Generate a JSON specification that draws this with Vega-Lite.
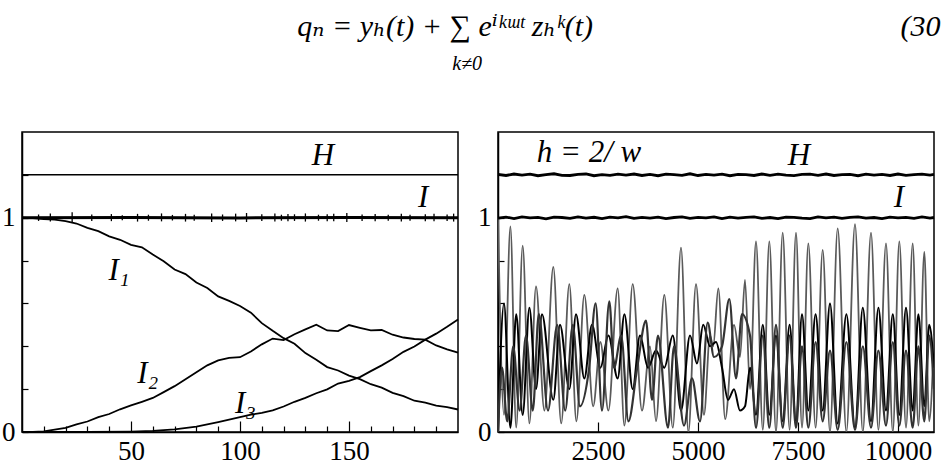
{
  "$schema": "https://vega.github.io/schema/vega-lite/v6.json",
  "background": "white",
  "padding": {"left": 0, "top": 12, "right": 0, "bottom": 0},
  "title": {
    "text": "q\u2099 = y\u2095(t) + \u2211 e\u2071\u1d4f\u1d5a\u1d57 z\u2095\u1d4f(t)\u00a0\u00a0\u00a0\u00a0\u00a0\u00a0\u00a0\u00a0\u00a0\u00a0\u00a0\u00a0\u00a0\u00a0\u00a0\u00a0\u00a0\u00a0\u00a0\u00a0\u00a0\u00a0\u00a0\u00a0\u00a0\u00a0\u00a0\u00a0\u00a0\u00a0\u00a0\u00a0\u00a0\u00a0\u00a0\u00a0\u00a0\u00a0\u00a0\u00a0\u00a0(30",
    "subtitle": "\u200b\u00a0\u00a0\u00a0\u00a0\u00a0\u00a0\u00a0\u00a0\u00a0\u00a0\u00a0\u00a0\u00a0\u00a0\u00a0\u00a0\u00a0\u00a0\u00a0\u00a0\u00a0\u00a0\u00a0\u00a0\u00a0\u00a0\u00a0\u00a0\u00a0\u00a0\u00a0k\u22600",
    "anchor": "start",
    "frame": "bounds",
    "dx": 297,
    "font": "Liberation Serif, Times New Roman, DejaVu Serif, serif",
    "fontSize": 30,
    "fontStyle": "italic",
    "fontWeight": "normal",
    "color": "black",
    "subtitleFont": "Liberation Serif, Times New Roman, DejaVu Serif, serif",
    "subtitleFontSize": 20,
    "subtitleFontStyle": "italic",
    "subtitleColor": "black",
    "subtitlePadding": 12,
    "offset": 57
  },
  "config": {
    "view": {"stroke": "black", "strokeWidth": 1.5},
    "axis": {
      "grid": false,
      "domainColor": "black",
      "domainWidth": 1.5,
      "tickColor": "black",
      "tickWidth": 1.2,
      "labelFont": "Liberation Serif, Times New Roman, DejaVu Serif, serif",
      "labelFontSize": 27,
      "labelColor": "black",
      "labelOverlap": false,
      "labelFlush": false
    },
    "text": {"font": "Liberation Serif, Times New Roman, DejaVu Serif, serif", "fontStyle": "italic", "fontSize": 31, "color": "black"}
  },
  "datasets": {
    "leftH": [{"t": 0, "v": 1.2}, {"t": 200, "v": 1.2}],
    "leftI": [{"t": 0, "v": 1.0}, {"t": 50, "v": 1.001}, {"t": 100, "v": 0.999}, {"t": 150, "v": 1.001}, {"t": 200, "v": 1.0}],
    "leftSpikes": [
      {"t": 7.6, "lo": 0.985, "hi": 1.015}, {"t": 13, "lo": 0.982, "hi": 1.02}, {"t": 23, "lo": 0.975, "hi": 1.025},
      {"t": 32, "lo": 0.985, "hi": 1.015}, {"t": 41, "lo": 0.984, "hi": 1.017}, {"t": 46, "lo": 0.988, "hi": 1.012},
      {"t": 53, "lo": 0.982, "hi": 1.018}, {"t": 58, "lo": 0.986, "hi": 1.014}, {"t": 64, "lo": 0.983, "hi": 1.02},
      {"t": 69, "lo": 0.987, "hi": 1.013}, {"t": 75, "lo": 0.982, "hi": 1.018}, {"t": 79, "lo": 0.986, "hi": 1.014},
      {"t": 87, "lo": 0.98, "hi": 1.02}, {"t": 92, "lo": 0.985, "hi": 1.015}, {"t": 98, "lo": 0.983, "hi": 1.019},
      {"t": 103, "lo": 0.98, "hi": 1.022}, {"t": 110, "lo": 0.985, "hi": 1.016}, {"t": 116, "lo": 0.982, "hi": 1.02},
      {"t": 119, "lo": 0.986, "hi": 1.014}, {"t": 122, "lo": 0.983, "hi": 1.017}, {"t": 125, "lo": 0.985, "hi": 1.016},
      {"t": 130, "lo": 0.982, "hi": 1.02}, {"t": 136, "lo": 0.986, "hi": 1.014}, {"t": 140, "lo": 0.984, "hi": 1.016},
      {"t": 143, "lo": 0.983, "hi": 1.018}, {"t": 149, "lo": 0.98, "hi": 1.022}, {"t": 156, "lo": 0.985, "hi": 1.015},
      {"t": 162, "lo": 0.983, "hi": 1.017}, {"t": 168, "lo": 0.986, "hi": 1.014}, {"t": 174, "lo": 0.982, "hi": 1.018},
      {"t": 178, "lo": 0.986, "hi": 1.014}, {"t": 185, "lo": 0.984, "hi": 1.016}, {"t": 189, "lo": 0.983, "hi": 1.018},
      {"t": 195, "lo": 0.985, "hi": 1.015}, {"t": 198, "lo": 0.982, "hi": 1.019}
    ],
    "leftCurves": [
      {"s": "I1", "t": 0, "v": 1.0}, {"s": "I1", "t": 5, "v": 0.998}, {"s": "I1", "t": 10, "v": 0.994}, {"s": "I1", "t": 15, "v": 0.991},
      {"s": "I1", "t": 20, "v": 0.984}, {"s": "I1", "t": 25, "v": 0.973}, {"s": "I1", "t": 30, "v": 0.953}, {"s": "I1", "t": 35, "v": 0.937},
      {"s": "I1", "t": 40, "v": 0.913}, {"s": "I1", "t": 45, "v": 0.897}, {"s": "I1", "t": 50, "v": 0.873}, {"s": "I1", "t": 55, "v": 0.862},
      {"s": "I1", "t": 60, "v": 0.828}, {"s": "I1", "t": 65, "v": 0.797}, {"s": "I1", "t": 70, "v": 0.758}, {"s": "I1", "t": 75, "v": 0.737},
      {"s": "I1", "t": 80, "v": 0.698}, {"s": "I1", "t": 85, "v": 0.672}, {"s": "I1", "t": 90, "v": 0.633}, {"s": "I1", "t": 95, "v": 0.612},
      {"s": "I1", "t": 100, "v": 0.588}, {"s": "I1", "t": 105, "v": 0.557}, {"s": "I1", "t": 110, "v": 0.508}, {"s": "I1", "t": 115, "v": 0.472},
      {"s": "I1", "t": 120, "v": 0.438}, {"s": "I1", "t": 125, "v": 0.412}, {"s": "I1", "t": 130, "v": 0.368}, {"s": "I1", "t": 135, "v": 0.337},
      {"s": "I1", "t": 140, "v": 0.303}, {"s": "I1", "t": 145, "v": 0.287}, {"s": "I1", "t": 150, "v": 0.263}, {"s": "I1", "t": 155, "v": 0.247},
      {"s": "I1", "t": 160, "v": 0.223}, {"s": "I1", "t": 165, "v": 0.207}, {"s": "I1", "t": 170, "v": 0.183}, {"s": "I1", "t": 175, "v": 0.167},
      {"s": "I1", "t": 180, "v": 0.146}, {"s": "I1", "t": 185, "v": 0.137}, {"s": "I1", "t": 190, "v": 0.123}, {"s": "I1", "t": 195, "v": 0.116},
      {"s": "I1", "t": 200, "v": 0.105},
      {"s": "I2", "t": 0, "v": 0.0}, {"s": "I2", "t": 5, "v": 0.0}, {"s": "I2", "t": 10, "v": 0.003}, {"s": "I2", "t": 15, "v": 0.011},
      {"s": "I2", "t": 20, "v": 0.019}, {"s": "I2", "t": 25, "v": 0.036}, {"s": "I2", "t": 30, "v": 0.049}, {"s": "I2", "t": 35, "v": 0.069},
      {"s": "I2", "t": 40, "v": 0.084}, {"s": "I2", "t": 45, "v": 0.106}, {"s": "I2", "t": 50, "v": 0.124}, {"s": "I2", "t": 55, "v": 0.141},
      {"s": "I2", "t": 60, "v": 0.159}, {"s": "I2", "t": 65, "v": 0.186}, {"s": "I2", "t": 70, "v": 0.214}, {"s": "I2", "t": 75, "v": 0.246},
      {"s": "I2", "t": 80, "v": 0.279}, {"s": "I2", "t": 85, "v": 0.311}, {"s": "I2", "t": 90, "v": 0.334}, {"s": "I2", "t": 95, "v": 0.346},
      {"s": "I2", "t": 100, "v": 0.349}, {"s": "I2", "t": 105, "v": 0.376}, {"s": "I2", "t": 110, "v": 0.409}, {"s": "I2", "t": 115, "v": 0.436},
      {"s": "I2", "t": 120, "v": 0.429}, {"s": "I2", "t": 125, "v": 0.456}, {"s": "I2", "t": 130, "v": 0.479}, {"s": "I2", "t": 135, "v": 0.501},
      {"s": "I2", "t": 140, "v": 0.474}, {"s": "I2", "t": 145, "v": 0.471}, {"s": "I2", "t": 150, "v": 0.499}, {"s": "I2", "t": 155, "v": 0.486},
      {"s": "I2", "t": 160, "v": 0.474}, {"s": "I2", "t": 165, "v": 0.476}, {"s": "I2", "t": 170, "v": 0.454}, {"s": "I2", "t": 175, "v": 0.441},
      {"s": "I2", "t": 180, "v": 0.434}, {"s": "I2", "t": 185, "v": 0.431}, {"s": "I2", "t": 190, "v": 0.404}, {"s": "I2", "t": 195, "v": 0.386},
      {"s": "I2", "t": 200, "v": 0.37},
      {"s": "I3", "t": 0, "v": 0.0}, {"s": "I3", "t": 30, "v": 0.0}, {"s": "I3", "t": 50, "v": 0.002}, {"s": "I3", "t": 60, "v": 0.005},
      {"s": "I3", "t": 70, "v": 0.012}, {"s": "I3", "t": 80, "v": 0.025}, {"s": "I3", "t": 90, "v": 0.046}, {"s": "I3", "t": 100, "v": 0.069},
      {"s": "I3", "t": 105, "v": 0.081}, {"s": "I3", "t": 110, "v": 0.089}, {"s": "I3", "t": 115, "v": 0.101}, {"s": "I3", "t": 120, "v": 0.119},
      {"s": "I3", "t": 125, "v": 0.141}, {"s": "I3", "t": 130, "v": 0.159}, {"s": "I3", "t": 135, "v": 0.181}, {"s": "I3", "t": 140, "v": 0.199},
      {"s": "I3", "t": 145, "v": 0.226}, {"s": "I3", "t": 150, "v": 0.239}, {"s": "I3", "t": 155, "v": 0.256}, {"s": "I3", "t": 160, "v": 0.284},
      {"s": "I3", "t": 165, "v": 0.311}, {"s": "I3", "t": 170, "v": 0.341}, {"s": "I3", "t": 175, "v": 0.374}, {"s": "I3", "t": 180, "v": 0.399},
      {"s": "I3", "t": 185, "v": 0.431}, {"s": "I3", "t": 190, "v": 0.459}, {"s": "I3", "t": 195, "v": 0.491}, {"s": "I3", "t": 200, "v": 0.525}
    ],
    "rightHI": [
      {"s": "H", "t": 0, "v": 1.202}, {"s": "H", "t": 200, "v": 1.197}, {"s": "H", "t": 400, "v": 1.204}, {"s": "H", "t": 600, "v": 1.199},
      {"s": "H", "t": 800, "v": 1.203}, {"s": "H", "t": 1000, "v": 1.196}, {"s": "H", "t": 1200, "v": 1.201}, {"s": "H", "t": 1400, "v": 1.205},
      {"s": "H", "t": 1600, "v": 1.198}, {"s": "H", "t": 1800, "v": 1.197}, {"s": "H", "t": 2000, "v": 1.202}, {"s": "H", "t": 2200, "v": 1.204},
      {"s": "H", "t": 2400, "v": 1.196}, {"s": "H", "t": 2600, "v": 1.201}, {"s": "H", "t": 2800, "v": 1.198}, {"s": "H", "t": 3000, "v": 1.203},
      {"s": "H", "t": 3200, "v": 1.199}, {"s": "H", "t": 3400, "v": 1.204}, {"s": "H", "t": 3600, "v": 1.197}, {"s": "H", "t": 3800, "v": 1.202},
      {"s": "H", "t": 4000, "v": 1.196}, {"s": "H", "t": 4200, "v": 1.203}, {"s": "H", "t": 4400, "v": 1.201}, {"s": "H", "t": 4600, "v": 1.198},
      {"s": "H", "t": 4800, "v": 1.205}, {"s": "H", "t": 5000, "v": 1.197}, {"s": "H", "t": 5200, "v": 1.202}, {"s": "H", "t": 5400, "v": 1.199},
      {"s": "H", "t": 5600, "v": 1.203}, {"s": "H", "t": 5800, "v": 1.196}, {"s": "H", "t": 6000, "v": 1.202}, {"s": "H", "t": 6200, "v": 1.201},
      {"s": "H", "t": 6400, "v": 1.197}, {"s": "H", "t": 6600, "v": 1.204}, {"s": "H", "t": 6800, "v": 1.198}, {"s": "H", "t": 7000, "v": 1.203},
      {"s": "H", "t": 7200, "v": 1.199}, {"s": "H", "t": 7400, "v": 1.196}, {"s": "H", "t": 7600, "v": 1.202}, {"s": "H", "t": 7800, "v": 1.203},
      {"s": "H", "t": 8000, "v": 1.198}, {"s": "H", "t": 8200, "v": 1.204}, {"s": "H", "t": 8400, "v": 1.197}, {"s": "H", "t": 8600, "v": 1.201},
      {"s": "H", "t": 8800, "v": 1.202}, {"s": "H", "t": 9000, "v": 1.196}, {"s": "H", "t": 9200, "v": 1.203}, {"s": "H", "t": 9400, "v": 1.199},
      {"s": "H", "t": 9600, "v": 1.202}, {"s": "H", "t": 9800, "v": 1.197}, {"s": "H", "t": 10000, "v": 1.204}, {"s": "H", "t": 10200, "v": 1.198},
      {"s": "H", "t": 10400, "v": 1.201}, {"s": "H", "t": 10600, "v": 1.203}, {"s": "H", "t": 10800, "v": 1.199}, {"s": "H", "t": 10900, "v": 1.202},
      {"s": "I", "t": 0, "v": 0.998}, {"s": "I", "t": 200, "v": 1.003}, {"s": "I", "t": 400, "v": 0.996}, {"s": "I", "t": 600, "v": 1.004},
      {"s": "I", "t": 800, "v": 0.999}, {"s": "I", "t": 1000, "v": 1.002}, {"s": "I", "t": 1200, "v": 0.995}, {"s": "I", "t": 1400, "v": 1.003},
      {"s": "I", "t": 1600, "v": 1.001}, {"s": "I", "t": 1800, "v": 0.997}, {"s": "I", "t": 2000, "v": 1.004}, {"s": "I", "t": 2200, "v": 0.998},
      {"s": "I", "t": 2400, "v": 1.002}, {"s": "I", "t": 2600, "v": 0.996}, {"s": "I", "t": 2800, "v": 1.003}, {"s": "I", "t": 3000, "v": 0.999},
      {"s": "I", "t": 3200, "v": 1.005}, {"s": "I", "t": 3400, "v": 0.997}, {"s": "I", "t": 3600, "v": 1.002}, {"s": "I", "t": 3800, "v": 0.998},
      {"s": "I", "t": 4000, "v": 1.003}, {"s": "I", "t": 4200, "v": 0.996}, {"s": "I", "t": 4400, "v": 1.001}, {"s": "I", "t": 4600, "v": 1.004},
      {"s": "I", "t": 4800, "v": 0.997}, {"s": "I", "t": 5000, "v": 1.002}, {"s": "I", "t": 5200, "v": 0.999}, {"s": "I", "t": 5400, "v": 1.004},
      {"s": "I", "t": 5600, "v": 0.996}, {"s": "I", "t": 5800, "v": 1.003}, {"s": "I", "t": 6000, "v": 0.998}, {"s": "I", "t": 6200, "v": 1.002},
      {"s": "I", "t": 6400, "v": 1.004}, {"s": "I", "t": 6600, "v": 0.997}, {"s": "I", "t": 6800, "v": 1.001}, {"s": "I", "t": 7000, "v": 0.996},
      {"s": "I", "t": 7200, "v": 1.003}, {"s": "I", "t": 7400, "v": 1.002}, {"s": "I", "t": 7600, "v": 0.998}, {"s": "I", "t": 7800, "v": 0.996},
      {"s": "I", "t": 8000, "v": 1.004}, {"s": "I", "t": 8200, "v": 0.999}, {"s": "I", "t": 8400, "v": 1.003}, {"s": "I", "t": 8600, "v": 0.997},
      {"s": "I", "t": 8800, "v": 1.002}, {"s": "I", "t": 9000, "v": 1.004}, {"s": "I", "t": 9200, "v": 0.998}, {"s": "I", "t": 9400, "v": 1.001},
      {"s": "I", "t": 9600, "v": 0.996}, {"s": "I", "t": 9800, "v": 1.003}, {"s": "I", "t": 10000, "v": 0.999}, {"s": "I", "t": 10200, "v": 1.002},
      {"s": "I", "t": 10400, "v": 0.997}, {"s": "I", "t": 10600, "v": 1.004}, {"s": "I", "t": 10800, "v": 0.998}, {"s": "I", "t": 10900, "v": 1.001}
    ],
    "rightCurves": [
      {"s": "A", "t": 0, "v": 1.0}, {"s": "A", "t": 150, "v": 0.08}, {"s": "A", "t": 310, "v": 0.96}, {"s": "A", "t": 455, "v": 0.02},
      {"s": "A", "t": 617, "v": 0.87}, {"s": "A", "t": 785, "v": 0.04}, {"s": "A", "t": 950, "v": 0.68}, {"s": "A", "t": 1160, "v": 0.1},
      {"s": "A", "t": 1383, "v": 0.77}, {"s": "A", "t": 1580, "v": 0.04}, {"s": "A", "t": 1783, "v": 0.69}, {"s": "A", "t": 1960, "v": 0.05},
      {"s": "A", "t": 2158, "v": 0.64}, {"s": "A", "t": 2380, "v": 0.12}, {"s": "A", "t": 2560, "v": 0.42}, {"s": "A", "t": 2760, "v": 0.1},
      {"s": "A", "t": 2992, "v": 0.67}, {"s": "A", "t": 3160, "v": 0.03}, {"s": "A", "t": 3367, "v": 0.69}, {"s": "A", "t": 3600, "v": 0.1},
      {"s": "A", "t": 3800, "v": 0.4}, {"s": "A", "t": 3950, "v": 0.05}, {"s": "A", "t": 4158, "v": 0.64}, {"s": "A", "t": 4370, "v": 0.02},
      {"s": "A", "t": 4575, "v": 0.86}, {"s": "A", "t": 4760, "v": 0.0}, {"s": "A", "t": 4950, "v": 0.69}, {"s": "A", "t": 5150, "v": 0.08},
      {"s": "A", "t": 5300, "v": 0.45}, {"s": "A", "t": 5380, "v": 0.4}, {"s": "A", "t": 5508, "v": 0.67}, {"s": "A", "t": 5680, "v": 0.06},
      {"s": "A", "t": 5900, "v": 0.5}, {"s": "A", "t": 6050, "v": 0.35}, {"s": "A", "t": 6175, "v": 0.71}, {"s": "A", "t": 6300, "v": 0.2},
      {"s": "A", "t": 6450, "v": 0.89}, {"s": "A", "t": 6620, "v": 0.01}, {"s": "A", "t": 6783, "v": 0.89}, {"s": "A", "t": 6950, "v": 0.0},
      {"s": "A", "t": 7117, "v": 0.93}, {"s": "A", "t": 7290, "v": 0.01}, {"s": "A", "t": 7450, "v": 0.93}, {"s": "A", "t": 7600, "v": 0.02},
      {"s": "A", "t": 7758, "v": 0.88}, {"s": "A", "t": 7940, "v": 0.02}, {"s": "A", "t": 8117, "v": 0.85}, {"s": "A", "t": 8300, "v": 0.0},
      {"s": "A", "t": 8492, "v": 0.95}, {"s": "A", "t": 8710, "v": 0.0}, {"s": "A", "t": 8925, "v": 0.97}, {"s": "A", "t": 9120, "v": 0.0},
      {"s": "A", "t": 9325, "v": 0.93}, {"s": "A", "t": 9510, "v": 0.01}, {"s": "A", "t": 9700, "v": 0.88}, {"s": "A", "t": 9870, "v": 0.0},
      {"s": "A", "t": 10033, "v": 0.89}, {"s": "A", "t": 10200, "v": 0.02}, {"s": "A", "t": 10367, "v": 0.88}, {"s": "A", "t": 10510, "v": 0.03},
      {"s": "A", "t": 10658, "v": 0.84}, {"s": "A", "t": 10780, "v": 0.05}, {"s": "A", "t": 10900, "v": 0.45},
      {"s": "B", "t": 0, "v": 0.0}, {"s": "B", "t": 150, "v": 0.6}, {"s": "B", "t": 310, "v": 0.02}, {"s": "B", "t": 455, "v": 0.55},
      {"s": "B", "t": 617, "v": 0.08}, {"s": "B", "t": 785, "v": 0.58}, {"s": "B", "t": 950, "v": 0.2}, {"s": "B", "t": 1100, "v": 0.55},
      {"s": "B", "t": 1383, "v": 0.15}, {"s": "B", "t": 1550, "v": 0.5}, {"s": "B", "t": 1783, "v": 0.2}, {"s": "B", "t": 1950, "v": 0.55},
      {"s": "B", "t": 2158, "v": 0.25}, {"s": "B", "t": 2350, "v": 0.5}, {"s": "B", "t": 2560, "v": 0.3}, {"s": "B", "t": 2760, "v": 0.45},
      {"s": "B", "t": 2992, "v": 0.25}, {"s": "B", "t": 3160, "v": 0.55}, {"s": "B", "t": 3367, "v": 0.2}, {"s": "B", "t": 3550, "v": 0.45},
      {"s": "B", "t": 3750, "v": 0.3}, {"s": "B", "t": 3950, "v": 0.38}, {"s": "B", "t": 4158, "v": 0.3}, {"s": "B", "t": 4370, "v": 0.45},
      {"s": "B", "t": 4575, "v": 0.1}, {"s": "B", "t": 4800, "v": 0.45}, {"s": "B", "t": 4975, "v": 0.32}, {"s": "B", "t": 5130, "v": 0.5},
      {"s": "B", "t": 5300, "v": 0.4}, {"s": "B", "t": 5450, "v": 0.42}, {"s": "B", "t": 5600, "v": 0.3}, {"s": "B", "t": 5750, "v": 0.15},
      {"s": "B", "t": 5900, "v": 0.2}, {"s": "B", "t": 6050, "v": 0.1}, {"s": "B", "t": 6175, "v": 0.12}, {"s": "B", "t": 6300, "v": 0.3},
      {"s": "B", "t": 6450, "v": 0.08}, {"s": "B", "t": 6620, "v": 0.5}, {"s": "B", "t": 6783, "v": 0.08}, {"s": "B", "t": 6950, "v": 0.45},
      {"s": "B", "t": 7117, "v": 0.05}, {"s": "B", "t": 7290, "v": 0.5}, {"s": "B", "t": 7450, "v": 0.05}, {"s": "B", "t": 7600, "v": 0.55},
      {"s": "B", "t": 7758, "v": 0.1}, {"s": "B", "t": 7940, "v": 0.55}, {"s": "B", "t": 8117, "v": 0.1}, {"s": "B", "t": 8300, "v": 0.6},
      {"s": "B", "t": 8492, "v": 0.04}, {"s": "B", "t": 8710, "v": 0.55}, {"s": "B", "t": 8925, "v": 0.02}, {"s": "B", "t": 9120, "v": 0.58},
      {"s": "B", "t": 9325, "v": 0.05}, {"s": "B", "t": 9510, "v": 0.58}, {"s": "B", "t": 9700, "v": 0.1}, {"s": "B", "t": 9870, "v": 0.55},
      {"s": "B", "t": 10033, "v": 0.08}, {"s": "B", "t": 10200, "v": 0.58}, {"s": "B", "t": 10367, "v": 0.1}, {"s": "B", "t": 10510, "v": 0.55},
      {"s": "B", "t": 10658, "v": 0.12}, {"s": "B", "t": 10780, "v": 0.5}, {"s": "B", "t": 10900, "v": 0.3},
      {"s": "C", "t": 0, "v": 0.0}, {"s": "C", "t": 100, "v": 0.3}, {"s": "C", "t": 230, "v": 0.05}, {"s": "C", "t": 380, "v": 0.4},
      {"s": "C", "t": 540, "v": 0.1}, {"s": "C", "t": 700, "v": 0.45}, {"s": "C", "t": 870, "v": 0.1}, {"s": "C", "t": 1020, "v": 0.55},
      {"s": "C", "t": 1250, "v": 0.1}, {"s": "C", "t": 1480, "v": 0.5}, {"s": "C", "t": 1680, "v": 0.1}, {"s": "C", "t": 1870, "v": 0.5},
      {"s": "C", "t": 2050, "v": 0.12}, {"s": "C", "t": 2280, "v": 0.3}, {"s": "C", "t": 2440, "v": 0.6}, {"s": "C", "t": 2600, "v": 0.1},
      {"s": "C", "t": 2783, "v": 0.61}, {"s": "C", "t": 2900, "v": 0.3}, {"s": "C", "t": 3080, "v": 0.45}, {"s": "C", "t": 3260, "v": 0.05},
      {"s": "C", "t": 3480, "v": 0.3}, {"s": "C", "t": 3700, "v": 0.52}, {"s": "C", "t": 3850, "v": 0.15}, {"s": "C", "t": 4000, "v": 0.45},
      {"s": "C", "t": 4250, "v": 0.02}, {"s": "C", "t": 4400, "v": 0.4}, {"s": "C", "t": 4650, "v": 0.03}, {"s": "C", "t": 4850, "v": 0.25},
      {"s": "C", "t": 5050, "v": 0.05}, {"s": "C", "t": 5242, "v": 0.51}, {"s": "C", "t": 5400, "v": 0.35}, {"s": "C", "t": 5600, "v": 0.4},
      {"s": "C", "t": 5783, "v": 0.62}, {"s": "C", "t": 5950, "v": 0.25}, {"s": "C", "t": 6100, "v": 0.55}, {"s": "C", "t": 6300, "v": 0.45},
      {"s": "C", "t": 6450, "v": 0.02}, {"s": "C", "t": 6620, "v": 0.45}, {"s": "C", "t": 6783, "v": 0.02}, {"s": "C", "t": 6950, "v": 0.5},
      {"s": "C", "t": 7117, "v": 0.02}, {"s": "C", "t": 7290, "v": 0.45}, {"s": "C", "t": 7450, "v": 0.02}, {"s": "C", "t": 7600, "v": 0.4},
      {"s": "C", "t": 7758, "v": 0.02}, {"s": "C", "t": 7940, "v": 0.42}, {"s": "C", "t": 8117, "v": 0.05}, {"s": "C", "t": 8300, "v": 0.38},
      {"s": "C", "t": 8492, "v": 0.01}, {"s": "C", "t": 8710, "v": 0.42}, {"s": "C", "t": 8925, "v": 0.01}, {"s": "C", "t": 9120, "v": 0.4},
      {"s": "C", "t": 9325, "v": 0.02}, {"s": "C", "t": 9510, "v": 0.38}, {"s": "C", "t": 9700, "v": 0.03}, {"s": "C", "t": 9870, "v": 0.42},
      {"s": "C", "t": 10033, "v": 0.03}, {"s": "C", "t": 10200, "v": 0.38}, {"s": "C", "t": 10367, "v": 0.02}, {"s": "C", "t": 10510, "v": 0.4},
      {"s": "C", "t": 10658, "v": 0.05}, {"s": "C", "t": 10780, "v": 0.45}, {"s": "C", "t": 10900, "v": 0.2}
    ]
  },
  "spacing": 11,
  "hconcat": [
    {
      "width": 436,
      "height": 300,
      "resolve": {"axis": {"x": "independent"}},
      "layer": [
        {"data": {"name": "leftH"}, "mark": {"type": "line", "color": "black", "strokeWidth": 1.5},
          "encoding": {
            "x": {
              "field": "t", "type": "quantitative", "title": null,
              "scale": {"domain": [0, 200], "nice": false, "zero": false},
              "axis": {
                "orient": "bottom",
                "values": [10, 20, 30, 40, 60, 70, 80, 90, 110, 120, 130, 140, 160, 170, 180, 190],
                "labels": false,
                "tickSize": -6
              }
            },
            "y": {
              "field": "v", "type": "quantitative", "title": null,
              "scale": {"domain": [0, 1.4], "nice": false, "zero": false},
              "axis": {
                "values": [0, 0.1, 0.2, 0.3, 0.4, 0.5, 0.6, 0.7, 0.8, 0.9, 1, 1.1, 1.2, 1.3],
                "labelExpr": "datum.value == 0 ? '0' : datum.value == 1 ? '1' : ''",
                "tickSize": -6,
                "labelPadding": 13,
                "labelOverlap": false,
                "minExtent": 21,
                "maxExtent": 21
              }
            }
          }},
        {"data": {"name": "leftCurves"}, "mark": {"type": "line", "color": "black", "strokeWidth": 1.8},
          "encoding": {
            "x": {
              "field": "t", "type": "quantitative", "title": null,
              "axis": {
                "orient": "bottom",
                "values": [50, 100, 150],
                "tickSize": -11,
                "labelPadding": 17,
                "domain": false,
                "labelOverlap": false
              }
            },
            "y": {"field": "v", "type": "quantitative"},
            "detail": {"field": "s"}
          }},
        {"data": {"name": "leftI"}, "mark": {"type": "line", "color": "black", "strokeWidth": 3},
          "encoding": {"x": {"field": "t", "type": "quantitative", "axis": null}, "y": {"field": "v", "type": "quantitative"}}},
        {"data": {"name": "leftSpikes"}, "mark": {"type": "rule", "color": "black", "strokeWidth": 1.3},
          "encoding": {"x": {"field": "t", "type": "quantitative", "axis": null}, "y": {"field": "lo", "type": "quantitative"}, "y2": {"field": "hi"}}},
        {"data": {"values": [{"label": "H"}]}, "mark": {"type": "text", "align": "center", "baseline": "middle"},
          "encoding": {"x": {"datum": 138, "axis": null}, "y": {"datum": 1.29}, "text": {"field": "label"}}},
        {"data": {"values": [{"label": "I"}]}, "mark": {"type": "text", "align": "center", "baseline": "middle"},
          "encoding": {"x": {"datum": 184, "axis": null}, "y": {"datum": 1.09}, "text": {"field": "label"}}},
        {"data": {"values": [{"label": "I\u2081"}]}, "mark": {"type": "text", "align": "center", "baseline": "middle"},
          "encoding": {"x": {"datum": 44.5, "axis": null}, "y": {"datum": 0.75}, "text": {"field": "label"}}},
        {"data": {"values": [{"label": "I\u2082"}]}, "mark": {"type": "text", "align": "center", "baseline": "middle"},
          "encoding": {"x": {"datum": 57.7, "axis": null}, "y": {"datum": 0.27}, "text": {"field": "label"}}},
        {"data": {"values": [{"label": "I\u2083"}]}, "mark": {"type": "text", "align": "center", "baseline": "middle"},
          "encoding": {"x": {"datum": 102.5, "axis": null}, "y": {"datum": 0.13}, "text": {"field": "label"}}}
      ]
    },
    {
      "width": 436,
      "height": 300,
      "layer": [
        {"data": {"name": "rightCurves"}, "mark": {"type": "line", "interpolate": "monotone", "clip": true},
          "encoding": {
            "x": {
              "field": "t", "type": "quantitative", "title": null,
              "scale": {"domain": [0, 10900], "nice": false, "zero": false},
              "axis": {
                "values": [2500, 5000, 7500, 10000],
                "format": "d",
                "tickSize": -10,
                "labelPadding": 16,
                "labelOverlap": false,
                "labelBound": false
              }
            },
            "y": {
              "field": "v", "type": "quantitative", "title": null,
              "scale": {"domain": [0, 1.4], "nice": false, "zero": false},
              "axis": {
                "values": [0, 0.1, 0.2, 0.3, 0.4, 0.5, 0.6, 0.7, 0.8, 0.9, 1, 1.1, 1.2, 1.3],
                "labelExpr": "datum.value == 0 ? '0' : datum.value == 1 ? '1' : ''",
                "tickSize": -6,
                "labelPadding": 13,
                "labelOverlap": false,
                "minExtent": 21,
                "maxExtent": 21
              }
            },
            "color": {"field": "s", "type": "nominal", "legend": null, "scale": {"domain": ["A", "B", "C"], "range": ["#5a5a5a", "#000000", "#333333"]}},
            "strokeWidth": {"field": "s", "type": "nominal", "legend": null, "scale": {"domain": ["A", "B", "C"], "range": [1.8, 2.2, 1.5]}}
          }},
        {"data": {"name": "rightHI"}, "mark": {"type": "line", "color": "black", "strokeWidth": 2.8},
          "encoding": {"x": {"field": "t", "type": "quantitative"}, "y": {"field": "v", "type": "quantitative"}, "detail": {"field": "s"}}},
        {"data": {"values": [{"label": "h = 2/ w"}]}, "mark": {"type": "text", "align": "center", "baseline": "middle"},
          "encoding": {"x": {"datum": 2275}, "y": {"datum": 1.3}, "text": {"field": "label"}}},
        {"data": {"values": [{"label": "H"}]}, "mark": {"type": "text", "align": "center", "baseline": "middle"},
          "encoding": {"x": {"datum": 7525}, "y": {"datum": 1.29}, "text": {"field": "label"}}},
        {"data": {"values": [{"label": "I"}]}, "mark": {"type": "text", "align": "center", "baseline": "middle"},
          "encoding": {"x": {"datum": 10025}, "y": {"datum": 1.09}, "text": {"field": "label"}}}
      ]
    }
  ]
}
